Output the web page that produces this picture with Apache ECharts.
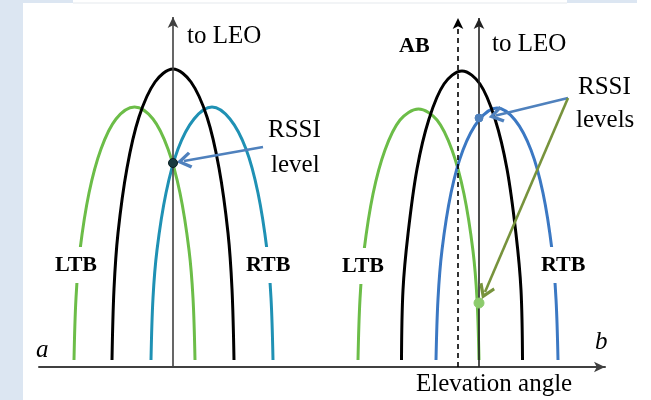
<!DOCTYPE html>
<html>
<head>
<meta charset="utf-8">
<script src="https://cdn.jsdelivr.net/npm/echarts@6/dist/echarts.min.js"></script>
<style>html,body{margin:0;padding:0;background:#fff;}#c{width:651px;height:400px;}</style>
</head>
<body>
<div id="c"></div>
<script>
// Curves: [elevation offset, level]
const ltbA = [[35,7],[37,69],[41,117],[50,174],[62,218],[77,248],[95.5,260],[114,248],[129,218],[141,174],[150,117],[154,69],[156,7]];
const abA  = [[73,7],[75,78],[79,134],[88,199],[100,250],[116,285],[134,298],[152,285],[168,250],[180,199],[189,134],[193,78],[195,7]];
const rtbA = [[112,7],[114,69],[118,117],[127,174],[139,218],[155,248],[173,260],[191,248],[207,218],[219,174],[228,117],[232,69],[234,7]];
const ltbB = [[319,7],[321,68],[325,116],[334,173],[346,217],[361,247],[379.5,258],[398,247],[413,217],[425,173],[434,116],[438,68],[440,7]];
const abB  = [[362.5,7],[364,77],[369,133],[378,198],[390,248],[405,283],[423,296],[441,283],[456,248],[468,198],[477,133],[482,77],[483.5,7]];
const rtbB = [[397,7],[399,68],[403,117],[412,174],[424,217],[440,247],[458,259],[476,247],[492,217],[504,174],[513,117],[517,68],[519,7]];
// Directions to LEO / AB (x, top)
const leoA = [134, 350];
const abDirB = [419, 349];
const leoB = [440, 349];
// RSSI points
const rssiA = [[134, 204]];
const rssiBlue = [[440, 249]];
const rssiGreen = [[440, 64]];
// arrows [from, to]
const arrowA = [[224,220],[145,206]];
const arrowBlue = [[529,269],[457,251.5]];
const arrowGreen = [[529,269],[446,75]];

const chevron = 'path://M6,0 L12,10 L10.2,11.6 L6,4.6 L1.8,11.6 L0,10 Z';
const F = '"Liberation Serif", "Times New Roman", serif';
const GREEN = '#6cbd48', TEAL = '#1f91b4', BLUE = '#3b78c3', ABLUE = '#4f81bd', OLIVE = '#77933c';

function curve(d, color) {
  return {type:'line', data:d, smooth:0.35, symbol:'none', lineStyle:{color:color, width:3}, z:2, silent:true};
}
function vline(pt, dashed, color) {
  return {type:'line', data:[], silent:true, markLine:{silent:true, animation:false, symbol:['none','arrow'], symbolSize:[8,11],
    label:{show:false}, lineStyle:{color:color, width:1.6, type: dashed ? [5,4] : 'solid'},
    data:[[{coord:[pt[0],0]},{coord:[pt[0],pt[1]]}]]}, z:4};
}
function arrow(a, color) {
  return {type:'line', data:[], silent:true, markLine:{silent:true, animation:false, symbol:['none',chevron], symbolSize:[17,15],
    label:{show:false}, lineStyle:{color:color, width:2.6, type:'solid'},
    data:[[{coord:a[0]},{coord:a[1]}]]}, z:6};
}
function dot(d, color, size, border) {
  return {type:'scatter', data:d, symbolSize:size, itemStyle:{color:color, borderColor:border, borderWidth:1, opacity:1}, z:7, silent:true};
}
function txt(x, y, s, size, weight, style, bg) {
  const st = {text:s, font:(style||'normal')+' '+(weight||'normal')+' '+size+'px '+F, fill:'#000', align:'left', verticalAlign:'middle'};
  if (bg) { st.backgroundColor = '#fff'; st.padding = [10,4,4,4]; }
  return {type:'text', x:x, y:y, z:100, style:st};
}

const chart = echarts.init(document.getElementById('c'), null, {renderer:'canvas'});
chart.setOption({
  animation:false,
  backgroundColor:'#fff',
  grid:{left:39, right:46, top:12, bottom:33},
  xAxis:{type:'value', min:0, max:566, axisLabel:{show:false}, axisTick:{show:false}, splitLine:{show:false},
    axisLine:{show:true, symbol:['none','arrow'], symbolSize:[8,11], lineStyle:{color:'#404040', width:2}}},
  yAxis:{type:'value', min:0, max:355, show:false},
  series:[
    curve(ltbA, GREEN), curve(rtbA, TEAL), curve(abA, '#000'),
    curve(ltbB, GREEN), curve(rtbB, BLUE), curve(abB, '#000'),
    vline(leoA, false, '#404040'), vline(abDirB, true, '#000'), vline(leoB, false, '#222'),
    arrow(arrowA, ABLUE), arrow(arrowBlue, ABLUE), arrow(arrowGreen, OLIVE),
    dot(rssiA, '#183a40', 9, '#0b1f22'), dot(rssiBlue, ABLUE, 8, ABLUE), dot(rssiGreen, '#8ccb6c', 10, '#8ccb6c')
  ],
  graphic:[
    {type:'rect', z:-1, shape:{x:0, y:0, width:23, height:400}, style:{fill:'#dce6f2'}},
    {type:'rect', z:-1, shape:{x:23, y:0, width:50, height:3}, style:{fill:'#dce6f2'}},
    {type:'rect', z:-1, shape:{x:73, y:2.5, width:494, height:1}, style:{fill:'#e6e9ee'}},
    {type:'rect', z:-1, shape:{x:567, y:0, width:70, height:3}, style:{fill:'#dce6f2'}},
    txt(187, 36, 'to LEO', 25),
    txt(268, 130, 'RSSI', 25),
    txt(271, 165, 'level', 25),
    txt(492, 44, 'to LEO', 25),
    txt(399, 46, 'AB', 22, 'bold'),
    txt(578, 87, 'RSSI', 25),
    txt(576, 120, 'levels', 25),
    txt(51, 265, 'LTB', 22, 'bold', null, true),
    txt(242, 265, 'RTB', 22, 'bold', null, true),
    txt(338, 266, 'LTB', 22, 'bold', null, true),
    txt(537, 265, 'RTB', 22, 'bold', null, true),
    txt(36, 350, 'a', 25, 'normal', 'italic'),
    txt(595, 342, 'b', 25, 'normal', 'italic'),
    txt(416, 384, 'Elevation angle', 25)
  ]
});
</script>
</body>
</html>
